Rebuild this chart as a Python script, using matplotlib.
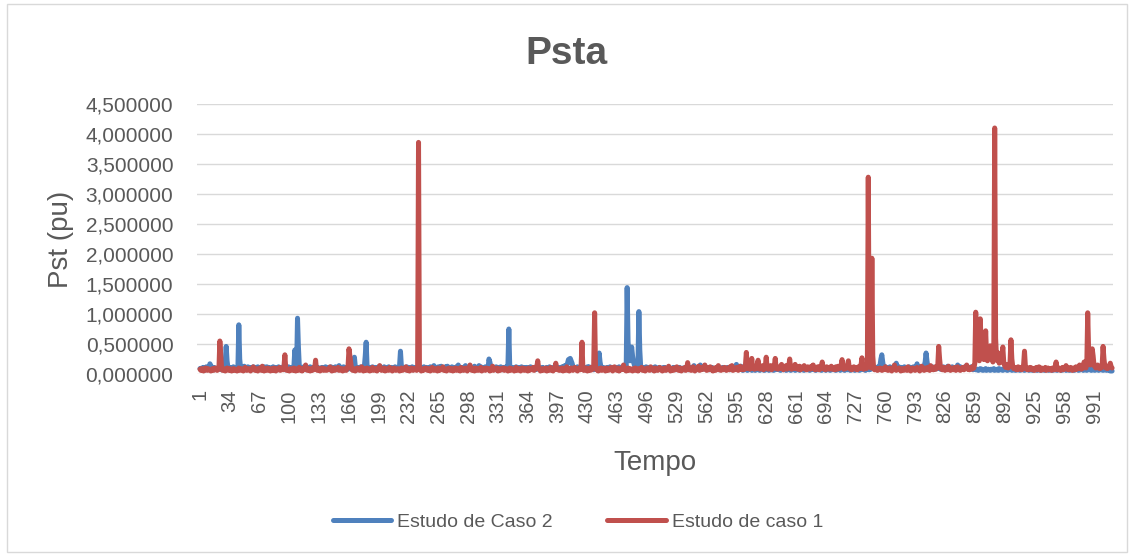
import matplotlib.pyplot as plt
from matplotlib.ticker import FuncFormatter
from matplotlib.patches import Rectangle

plt.rcParams['font.family'] = ['Liberation Sans', 'DejaVu Sans']

# Pst por amostra - Estudo de Caso 2 (azul)
caso2 = [
    0.09,0.07,0.10,0.08,0.11,0.06,0.09,0.12,0.08,0.10,0.07,0.17,0.14,0.09,0.08,0.11,0.07,0.10,0.09,0.08,
    0.10,0.08,0.11,0.09,0.07,0.10,0.08,0.12,0.20,0.46,0.22,0.10,0.08,0.11,0.09,0.07,0.10,0.12,0.08,0.09,
    0.11,0.08,0.10,0.82,0.25,0.09,0.11,0.08,0.10,0.13,0.09,0.07,0.10,0.12,0.08,0.11,0.09,0.10,0.07,0.12,
    0.09,0.11,0.08,0.10,0.12,0.07,0.09,0.11,0.08,0.10,0.09,0.12,0.07,0.10,0.12,0.08,0.11,0.09,0.10,0.07,
    0.10,0.12,0.08,0.11,0.09,0.10,0.07,0.12,0.09,0.11,0.08,0.10,0.12,0.09,0.07,0.11,0.10,0.08,0.12,0.09,
    0.10,0.08,0.11,0.09,0.12,0.40,0.15,0.10,0.93,0.45,0.12,0.09,0.11,0.08,0.10,0.12,0.09,0.07,0.11,0.10,
    0.08,0.10,0.12,0.09,0.11,0.07,0.10,0.08,0.12,0.09,0.11,0.08,0.10,0.07,0.09,0.11,0.08,0.10,0.09,0.12,
    0.09,0.11,0.08,0.10,0.07,0.12,0.09,0.11,0.08,0.10,0.12,0.09,0.07,0.10,0.14,0.09,0.11,0.08,0.10,0.12,
    0.09,0.07,0.11,0.10,0.08,0.12,0.09,0.11,0.08,0.10,0.14,0.28,0.12,0.09,0.07,0.11,0.10,0.08,0.12,0.09,
    0.11,0.08,0.12,0.30,0.53,0.14,0.10,0.08,0.11,0.09,0.07,0.12,0.10,0.08,0.11,0.09,0.10,0.07,0.12,0.13,
    0.09,0.11,0.08,0.10,0.12,0.07,0.09,0.11,0.08,0.12,0.10,0.08,0.11,0.09,0.07,0.10,0.12,0.08,0.11,0.09,
    0.10,0.14,0.38,0.13,0.09,0.11,0.08,0.10,0.07,0.12,0.09,0.11,0.08,0.10,0.09,0.12,0.07,0.10,0.11,0.08,
    0.09,0.11,0.08,0.10,0.07,0.09,0.11,0.08,0.12,0.10,0.08,0.11,0.09,0.07,0.10,0.12,0.08,0.11,0.09,0.14,
    0.10,0.08,0.11,0.09,0.12,0.07,0.10,0.13,0.09,0.11,0.08,0.10,0.12,0.09,0.13,0.08,0.11,0.10,0.07,0.12,
    0.09,0.11,0.08,0.10,0.12,0.09,0.15,0.10,0.08,0.11,0.09,0.07,0.10,0.12,0.14,0.09,0.11,0.08,0.10,0.12,
    0.09,0.11,0.08,0.10,0.13,0.09,0.07,0.11,0.10,0.14,0.08,0.12,0.09,0.11,0.07,0.10,0.12,0.08,0.11,0.09,
    0.25,0.20,0.12,0.09,0.11,0.08,0.10,0.07,0.12,0.09,0.11,0.08,0.10,0.12,0.09,0.07,0.11,0.10,0.08,0.12,
    0.09,0.14,0.75,0.12,0.10,0.08,0.11,0.09,0.07,0.10,0.12,0.08,0.11,0.09,0.10,0.07,0.12,0.09,0.11,0.08,
    0.10,0.08,0.11,0.09,0.07,0.10,0.12,0.08,0.11,0.09,0.10,0.07,0.12,0.09,0.08,0.11,0.10,0.08,0.09,0.11,
    0.08,0.10,0.09,0.07,0.11,0.10,0.08,0.12,0.09,0.07,0.10,0.11,0.08,0.09,0.12,0.10,0.08,0.11,0.09,0.07,
    0.10,0.12,0.08,0.11,0.14,0.10,0.13,0.18,0.24,0.25,0.26,0.22,0.18,0.12,0.09,0.11,0.08,0.10,0.12,0.09,
    0.11,0.08,0.10,0.15,0.09,0.07,0.11,0.10,0.08,0.12,0.09,0.12,0.10,0.08,0.11,0.09,0.07,0.10,0.12,0.08,
    0.10,0.14,0.35,0.20,0.12,0.09,0.11,0.08,0.10,0.07,0.09,0.11,0.08,0.10,0.12,0.09,0.07,0.11,0.10,0.08,
    0.09,0.11,0.08,0.10,0.12,0.09,0.07,0.11,0.10,0.08,0.12,0.09,0.14,1.44,0.55,0.28,0.22,0.30,0.45,0.30,
    0.20,0.15,0.12,0.10,0.14,0.18,1.04,0.40,0.12,0.09,0.11,0.08,0.10,0.07,0.12,0.09,0.11,0.08,0.10,0.09,
    0.07,0.10,0.08,0.11,0.12,0.09,0.07,0.10,0.08,0.11,0.09,0.07,0.10,0.08,0.11,0.09,0.10,0.07,0.09,0.08,
    0.10,0.08,0.07,0.09,0.11,0.08,0.10,0.07,0.09,0.10,0.08,0.11,0.07,0.09,0.08,0.10,0.07,0.09,0.11,0.08,
    0.09,0.07,0.10,0.08,0.11,0.09,0.10,0.14,0.08,0.10,0.07,0.09,0.11,0.08,0.15,0.09,0.10,0.08,0.11,0.14,
    0.09,0.11,0.08,0.10,0.07,0.09,0.11,0.08,0.10,0.09,0.07,0.10,0.08,0.11,0.09,0.07,0.10,0.08,0.09,0.11,
    0.08,0.10,0.07,0.09,0.11,0.08,0.10,0.07,0.09,0.08,0.11,0.09,0.10,0.12,0.16,0.10,0.08,0.11,0.09,0.13,
    0.08,0.06,0.09,0.07,0.10,0.08,0.06,0.09,0.07,0.08,0.10,0.06,0.09,0.07,0.08,0.06,0.10,0.08,0.07,0.09,
    0.06,0.08,0.10,0.07,0.09,0.06,0.08,0.07,0.10,0.09,0.06,0.08,0.07,0.09,0.10,0.06,0.08,0.07,0.09,0.08,
    0.10,0.07,0.09,0.06,0.08,0.10,0.07,0.09,0.08,0.06,0.10,0.07,0.09,0.08,0.06,0.09,0.07,0.10,0.08,0.06,
    0.09,0.07,0.08,0.10,0.06,0.09,0.08,0.07,0.10,0.06,0.08,0.09,0.07,0.10,0.08,0.06,0.09,0.07,0.08,0.10,
    0.07,0.09,0.06,0.08,0.10,0.07,0.09,0.08,0.06,0.10,0.07,0.09,0.08,0.06,0.10,0.08,0.07,0.09,0.06,0.08,
    0.10,0.07,0.09,0.08,0.06,0.10,0.07,0.08,0.09,0.06,0.10,0.08,0.07,0.09,0.06,0.08,0.10,0.07,0.09,0.08,
    0.06,0.09,0.07,0.10,0.08,0.06,0.09,0.07,0.08,0.10,0.06,0.09,0.07,0.08,0.10,0.07,0.09,0.06,0.08,0.10,
    0.09,0.07,0.10,0.08,0.11,0.09,0.12,0.10,0.08,0.11,0.09,0.12,0.10,0.14,0.25,0.32,0.20,0.11,0.09,0.12,
    0.10,0.08,0.11,0.09,0.12,0.10,0.08,0.11,0.09,0.12,0.10,0.18,0.11,0.09,0.12,0.10,0.08,0.11,0.09,0.10,
    0.12,0.09,0.11,0.08,0.10,0.12,0.09,0.11,0.10,0.08,0.12,0.09,0.11,0.10,0.17,0.09,0.11,0.08,0.10,0.12,
    0.09,0.11,0.14,0.20,0.35,0.22,0.12,0.09,0.11,0.08,0.10,0.12,0.09,0.11,0.08,0.10,0.12,0.09,0.11,0.10,
    0.08,0.11,0.09,0.12,0.10,0.08,0.11,0.09,0.13,0.10,0.08,0.11,0.09,0.12,0.10,0.08,0.11,0.09,0.10,0.15,
    0.11,0.09,0.12,0.10,0.08,0.11,0.09,0.12,0.10,0.13,0.09,0.11,0.08,0.10,0.12,0.09,0.07,0.10,0.08,0.07,
    0.07,0.08,0.06,0.07,0.09,0.07,0.08,0.06,0.07,0.07,0.09,0.06,0.07,0.08,0.07,0.06,0.08,0.07,0.07,0.09,
    0.06,0.07,0.07,0.08,0.06,0.09,0.07,0.07,0.08,0.06,0.07,0.09,0.07,0.08,0.06,0.07,0.07,0.09,0.08,0.06,
    0.07,0.07,0.08,0.06,0.09,0.07,0.07,0.08,0.06,0.07,0.09,0.07,0.08,0.06,0.07,0.07,0.09,0.08,0.06,0.07,
    0.07,0.08,0.06,0.07,0.09,0.07,0.08,0.06,0.07,0.07,0.09,0.06,0.07,0.08,0.07,0.06,0.08,0.07,0.07,0.09,
    0.06,0.07,0.07,0.08,0.06,0.09,0.07,0.07,0.08,0.06,0.07,0.09,0.07,0.08,0.06,0.07,0.07,0.09,0.08,0.06,
    0.07,0.07,0.08,0.06,0.09,0.07,0.07,0.08,0.06,0.07,0.09,0.07,0.08,0.06,0.07,0.07,0.09,0.08,0.06,0.07,
    0.07,0.08,0.06,0.07,0.09,0.07,0.08,0.06,0.07,0.07,0.09,0.06,0.07,0.08,0.07,0.06,0.08,0.07,0.07,0.09,
    0.06,0.07,0.07,0.08,0.06,0.09,0.07,0.07,0.05,0.06,0.05,
]

# Pst por amostra - Estudo de caso 1 (vermelho)
caso1 = [
    0.08,0.06,0.09,0.07,0.05,0.08,0.10,0.07,0.06,0.09,0.08,0.07,0.05,0.08,0.09,0.06,0.07,0.10,0.08,0.06,
    0.07,0.09,0.55,0.30,0.08,0.06,0.09,0.07,0.05,0.08,0.10,0.07,0.06,0.09,0.08,0.05,0.07,0.09,0.06,0.08,
    0.07,0.05,0.08,0.10,0.06,0.09,0.07,0.08,0.05,0.09,0.11,0.07,0.06,0.08,0.09,0.07,0.05,0.08,0.10,0.12,
    0.07,0.06,0.09,0.08,0.05,0.07,0.10,0.08,0.06,0.13,0.07,0.05,0.09,0.08,0.06,0.10,0.07,0.08,0.05,0.09,
    0.08,0.06,0.10,0.07,0.05,0.09,0.08,0.07,0.11,0.06,0.08,0.09,0.07,0.12,0.32,0.09,0.06,0.08,0.07,0.05,
    0.09,0.07,0.08,0.06,0.10,0.07,0.05,0.08,0.09,0.06,0.11,0.07,0.08,0.05,0.09,0.07,0.10,0.15,0.08,0.06,
    0.07,0.09,0.05,0.08,0.06,0.10,0.07,0.09,0.23,0.08,0.06,0.07,0.09,0.05,0.08,0.10,0.07,0.06,0.09,0.08,
    0.06,0.08,0.07,0.09,0.12,0.07,0.05,0.08,0.10,0.06,0.09,0.07,0.08,0.11,0.06,0.08,0.07,0.09,0.05,0.08,
    0.07,0.09,0.06,0.10,0.14,0.42,0.30,0.18,0.08,0.06,0.09,0.07,0.05,0.08,0.10,0.07,0.09,0.06,0.08,0.12,
    0.07,0.05,0.08,0.09,0.06,0.10,0.07,0.08,0.05,0.09,0.07,0.11,0.06,0.08,0.07,0.09,0.05,0.08,0.10,0.14,
    0.08,0.06,0.09,0.07,0.10,0.05,0.08,0.07,0.09,0.06,0.11,0.08,0.07,0.05,0.09,0.10,0.07,0.06,0.08,0.09,
    0.07,0.05,0.08,0.10,0.06,0.09,0.07,0.08,0.12,0.06,0.09,0.07,0.05,0.08,0.10,0.07,0.06,0.09,0.08,0.07,
    0.06,0.09,3.86,0.10,0.07,0.05,0.08,0.06,0.09,0.07,0.10,0.08,0.06,0.09,0.07,0.05,0.08,0.11,0.07,0.06,
    0.09,0.07,0.08,0.05,0.10,0.06,0.08,0.07,0.09,0.12,0.06,0.08,0.07,0.05,0.09,0.08,0.10,0.06,0.07,0.09,
    0.05,0.08,0.07,0.10,0.06,0.09,0.07,0.08,0.05,0.11,0.07,0.09,0.06,0.08,0.10,0.07,0.05,0.09,0.08,0.15,
    0.07,0.06,0.09,0.08,0.05,0.10,0.07,0.09,0.06,0.08,0.07,0.11,0.05,0.08,0.09,0.07,0.06,0.10,0.08,0.07,
    0.09,0.05,0.08,0.07,0.13,0.06,0.09,0.08,0.07,0.10,0.05,0.08,0.06,0.09,0.07,0.08,0.10,0.06,0.07,0.09,
    0.08,0.05,0.07,0.10,0.06,0.09,0.08,0.07,0.05,0.09,0.11,0.06,0.08,0.07,0.09,0.05,0.08,0.10,0.07,0.06,
    0.09,0.07,0.08,0.05,0.10,0.06,0.09,0.08,0.07,0.11,0.06,0.08,0.09,0.12,0.22,0.10,0.07,0.05,0.08,0.09,
    0.06,0.08,0.07,0.10,0.05,0.09,0.08,0.06,0.11,0.07,0.09,0.05,0.08,0.10,0.18,0.08,0.07,0.09,0.06,0.08,
    0.07,0.10,0.05,0.08,0.09,0.06,0.12,0.07,0.08,0.05,0.09,0.10,0.07,0.06,0.08,0.11,0.07,0.09,0.05,0.08,
    0.10,0.07,0.12,0.53,0.09,0.06,0.08,0.07,0.10,0.05,0.09,0.08,0.06,0.11,0.07,0.09,0.14,1.02,0.10,0.07,
    0.08,0.05,0.09,0.07,0.10,0.06,0.08,0.09,0.07,0.05,0.10,0.08,0.06,0.09,0.07,0.11,0.08,0.05,0.09,0.12,
    0.07,0.08,0.06,0.10,0.05,0.09,0.07,0.08,0.11,0.15,0.07,0.09,0.05,0.08,0.10,0.06,0.09,0.07,0.08,0.05,
    0.09,0.07,0.10,0.06,0.08,0.05,0.09,0.07,0.08,0.11,0.06,0.09,0.07,0.05,0.08,0.10,0.07,0.09,0.06,0.12,
    0.08,0.07,0.09,0.05,0.10,0.07,0.08,0.06,0.09,0.11,0.07,0.08,0.05,0.09,0.07,0.10,0.06,0.08,0.09,0.13,
    0.07,0.05,0.09,0.08,0.06,0.10,0.07,0.09,0.12,0.08,0.06,0.07,0.10,0.05,0.08,0.09,0.07,0.11,0.06,0.08,
    0.19,0.10,0.07,0.09,0.06,0.08,0.12,0.07,0.05,0.09,0.10,0.08,0.13,0.06,0.09,0.07,0.11,0.08,0.10,0.15,
    0.08,0.06,0.10,0.07,0.09,0.12,0.07,0.08,0.05,0.10,0.09,0.06,0.11,0.08,0.14,0.07,0.09,0.06,0.10,0.08,
    0.07,0.11,0.08,0.06,0.10,0.09,0.07,0.12,0.08,0.14,0.06,0.09,0.07,0.10,0.08,0.11,0.06,0.09,0.13,0.08,
    0.10,0.07,0.12,0.08,0.15,0.36,0.12,0.09,0.14,0.08,0.11,0.26,0.10,0.13,0.08,0.12,0.09,0.15,0.23,0.10,
    0.08,0.12,0.09,0.14,0.07,0.11,0.13,0.28,0.10,0.08,0.12,0.09,0.14,0.07,0.11,0.10,0.13,0.26,0.09,0.12,
    0.08,0.11,0.09,0.13,0.16,0.10,0.07,0.12,0.09,0.14,0.08,0.11,0.13,0.25,0.10,0.08,0.12,0.09,0.11,0.16,
    0.09,0.12,0.08,0.10,0.13,0.07,0.11,0.09,0.12,0.14,0.08,0.10,0.07,0.12,0.09,0.11,0.08,0.13,0.10,0.15,
    0.09,0.07,0.11,0.08,0.12,0.10,0.07,0.13,0.09,0.20,0.11,0.08,0.10,0.07,0.12,0.09,0.11,0.08,0.10,0.13,
    0.08,0.11,0.09,0.07,0.12,0.10,0.08,0.13,0.09,0.11,0.14,0.24,0.10,0.08,0.12,0.09,0.13,0.16,0.22,0.10,
    0.08,0.11,0.07,0.10,0.12,0.09,0.08,0.11,0.07,0.10,0.13,0.09,0.15,0.27,0.11,0.08,0.10,0.12,0.09,0.14,
    3.28,0.40,0.12,0.10,1.93,0.30,0.09,0.07,0.10,0.08,0.06,0.09,0.07,0.10,0.08,0.06,0.09,0.07,0.08,0.12,
    0.07,0.09,0.06,0.08,0.10,0.07,0.05,0.09,0.08,0.15,0.07,0.06,0.09,0.08,0.10,0.07,0.05,0.08,0.09,0.06,
    0.08,0.07,0.10,0.06,0.12,0.09,0.07,0.05,0.08,0.10,0.07,0.09,0.06,0.08,0.11,0.07,0.09,0.05,0.08,0.13,
    0.07,0.09,0.06,0.10,0.08,0.07,0.11,0.09,0.06,0.14,0.08,0.10,0.07,0.09,0.12,0.08,0.10,0.15,0.46,0.25,
    0.10,0.08,0.07,0.09,0.11,0.06,0.08,0.10,0.07,0.13,0.09,0.06,0.08,0.10,0.07,0.09,0.11,0.06,0.08,0.12,
    0.07,0.09,0.06,0.10,0.08,0.11,0.07,0.09,0.12,0.15,0.08,0.10,0.07,0.09,0.11,0.08,0.13,0.10,0.18,1.03,
    0.40,0.25,0.30,0.22,0.92,0.50,0.28,0.35,0.24,0.30,0.72,0.30,0.22,0.27,0.34,0.47,0.30,0.24,0.20,0.33,
    4.10,0.60,0.28,0.22,0.35,0.18,0.25,0.20,0.30,0.45,0.20,0.14,0.11,0.16,0.12,0.10,0.14,0.20,0.57,0.25,
    0.12,0.09,0.11,0.08,0.10,0.07,0.12,0.09,0.08,0.11,0.07,0.10,0.15,0.38,0.12,0.08,0.10,0.07,0.09,0.11,
    0.08,0.10,0.07,0.09,0.06,0.08,0.11,0.07,0.09,0.12,0.08,0.06,0.10,0.07,0.09,0.08,0.11,0.06,0.08,0.10,
    0.07,0.09,0.08,0.06,0.10,0.08,0.07,0.12,0.20,0.09,0.07,0.10,0.08,0.06,0.09,0.11,0.07,0.08,0.10,0.14,
    0.08,0.10,0.07,0.09,0.11,0.08,0.06,0.10,0.09,0.07,0.12,0.08,0.10,0.09,0.15,0.11,0.08,0.13,0.10,0.20,
    0.12,0.10,0.16,1.02,0.40,0.20,0.15,0.18,0.42,0.30,0.14,0.12,0.10,0.13,0.15,0.11,0.09,0.12,0.10,0.14,
    0.46,0.25,0.12,0.10,0.13,0.09,0.11,0.14,0.18,0.12,0.10,
]

xticks = list(range(1, 992, 33))
yticks = [0.0, 0.5, 1.0, 1.5, 2.0, 2.5, 3.0, 3.5, 4.0, 4.5]

W, H = 1133, 556
fig = plt.figure(figsize=(W / 100, H / 100), dpi=100)
ax = fig.add_axes([197 / W, 1 - 374 / H, (1113 - 197) / W, 270 / H])

ax.plot(range(1, len(caso2) + 1), caso2, color='#4F81BD', lw=3.6,
        solid_joinstyle='round', solid_capstyle='round', clip_on=False,
        label='Estudo de Caso 2')
ax.plot(range(1, len(caso1) + 1), caso1, color='#C0504D', lw=3.6,
        solid_joinstyle='round', solid_capstyle='round', clip_on=False,
        label='Estudo de caso 1')

ax.set_xlim(-2.3, 1012)
ax.set_ylim(0, 4.5)
ax.set_yticks(yticks)
ax.yaxis.set_major_formatter(FuncFormatter(lambda v, p: f"{v:.6f}".replace('.', ',')))
ax.set_xticks(xticks)
ax.set_xticklabels([str(t) for t in xticks], rotation=90)
ax.grid(axis='y', color='#D9D9D9', lw=1)
ax.set_axisbelow(True)
for s in ax.spines.values():
    s.set_visible(False)
ax.tick_params(axis='y', length=0, colors='#595959', labelsize=15, pad=17)
ax.tick_params(axis='x', length=0, colors='#595959', labelsize=14.5, pad=11)

fig.text(0.5, 1 - 64 / H, 'Psta', ha='center', va='baseline',
         fontsize=28, fontweight='bold', color='#595959')
fig.text(61 / W, 1 - 239 / H, 'Pst (pu)', ha='center', va='center',
         rotation=90, fontsize=20, color='#595959')
fig.text(655 / W, 1 - 470 / H, 'Tempo', ha='center', va='baseline',
         fontsize=20, color='#595959')

leg = fig.legend(loc='center', bbox_to_anchor=(578 / W, 1 - 522 / H), ncol=2,
                 frameon=False, fontsize=14, labelcolor='#595959',
                 handlelength=3, handletextpad=0.3, columnspacing=2.8)
for line in leg.get_lines():
    line.set_linewidth(3.6)

fig.patches.append(Rectangle((7 / W, 4 / H), (1127 - 7) / W, (552 - 4) / H,
                             transform=fig.transFigure, fill=False,
                             ec='#D9D9D9', lw=1))

fig.savefig('out.png', dpi=100)
